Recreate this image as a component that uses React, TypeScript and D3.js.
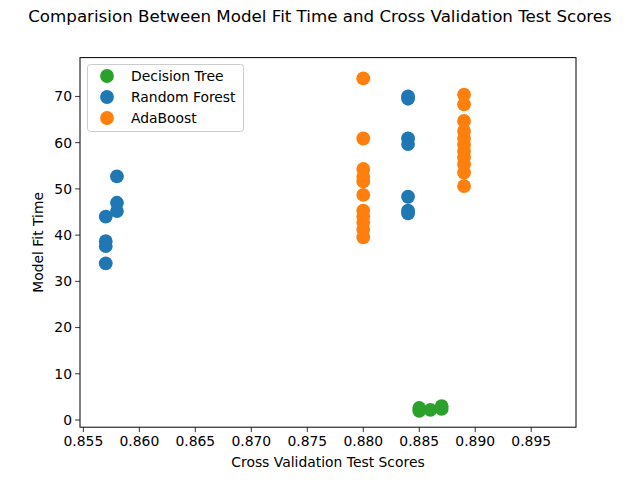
import React from "react";
import * as d3 from "d3";

type Pt = { score: number; time: number };

const decisionTree: Pt[] = [
  { score: 0.885, time: 2.6 },
  { score: 0.885, time: 2.0 },
  { score: 0.886, time: 2.2 },
  { score: 0.887, time: 3.0 },
  { score: 0.887, time: 2.4 },
];

const randomForest: Pt[] = [
  { score: 0.857, time: 44.0 },
  { score: 0.857, time: 38.7 },
  { score: 0.857, time: 37.6 },
  { score: 0.857, time: 33.9 },
  { score: 0.858, time: 52.7 },
  { score: 0.858, time: 47.0 },
  { score: 0.858, time: 45.2 },
  { score: 0.884, time: 70.0 },
  { score: 0.884, time: 69.5 },
  { score: 0.884, time: 60.9 },
  { score: 0.884, time: 59.7 },
  { score: 0.884, time: 48.3 },
  { score: 0.884, time: 45.3 },
  { score: 0.884, time: 44.7 },
];

const adaBoost: Pt[] = [
  { score: 0.88, time: 73.9 },
  { score: 0.88, time: 60.9 },
  { score: 0.88, time: 54.3 },
  { score: 0.88, time: 52.6 },
  { score: 0.88, time: 51.6 },
  { score: 0.88, time: 48.7 },
  { score: 0.88, time: 45.3 },
  { score: 0.88, time: 44.1 },
  { score: 0.88, time: 42.8 },
  { score: 0.88, time: 41.2 },
  { score: 0.88, time: 39.5 },
  { score: 0.889, time: 70.4 },
  { score: 0.889, time: 68.3 },
  { score: 0.889, time: 64.7 },
  { score: 0.889, time: 62.5 },
  { score: 0.889, time: 61.0 },
  { score: 0.889, time: 59.6 },
  { score: 0.889, time: 58.2 },
  { score: 0.889, time: 56.8 },
  { score: 0.889, time: 55.3 },
  { score: 0.889, time: 53.5 },
  { score: 0.889, time: 50.6 },
];

const series = [
  { name: "Decision Tree", color: "#2ca02c", data: decisionTree },
  { name: "Random Forest", color: "#1f77b4", data: randomForest },
  { name: "AdaBoost", color: "#ff7f0e", data: adaBoost },
];

const xTicks = [0.855, 0.86, 0.865, 0.87, 0.875, 0.88, 0.885, 0.89, 0.895];
const yTicks = [0, 10, 20, 30, 40, 50, 60, 70];

const width = 640;
const height = 480;
const margin = { top: 57.6, right: 64, bottom: 52.8, left: 80 };
const font = "DejaVu Sans, sans-serif";

const App: React.FC = () => {
  const x = d3
    .scaleLinear()
    .domain([0.8547, 0.899])
    .range([margin.left, width - margin.right]);
  const y = d3
    .scaleLinear()
    .domain([-1.55, 78.4])
    .range([height - margin.bottom, margin.top]);

  const plotW = width - margin.left - margin.right;
  const plotH = height - margin.top - margin.bottom;
  const bottom = height - margin.bottom;

  return (
    <svg
      width={width}
      height={height}
      style={{ position: "absolute", left: 0, top: 0, background: "#fff" }}
      fontFamily={font}
    >
      <rect width={width} height={height} fill="#fff" />
      <text x={width / 2} y={22} textAnchor="middle" fontSize={16.7} fill="#000">
        Comparision Between Model Fit Time and Cross Validation Test Scores
      </text>

      {series.map((s) =>
        s.data.map((d, i) => (
          <circle
            key={s.name + i}
            cx={x(d.score)}
            cy={y(d.time)}
            r={6.9}
            fill={s.color}
          />
        ))
      )}

      <rect
        x={margin.left}
        y={margin.top}
        width={plotW}
        height={plotH}
        fill="none"
        stroke="#000"
        strokeWidth={1}
      />

      {xTicks.map((t) => (
        <g key={t} transform={`translate(${x(t)},${bottom})`}>
          <line y2={4.9} stroke="#000" strokeWidth={0.8} />
          <text y={19} textAnchor="middle" fontSize={13.9} fill="#000">
            {d3.format(".3f")(t)}
          </text>
        </g>
      ))}
      {yTicks.map((t) => (
        <g key={t} transform={`translate(${margin.left},${y(t)})`}>
          <line x2={-4.9} stroke="#000" strokeWidth={0.8} />
          <text x={-8} dy="0.35em" textAnchor="end" fontSize={13.9} fill="#000">
            {t}
          </text>
        </g>
      ))}

      <text x={margin.left + plotW / 2} y={467} textAnchor="middle" fontSize={13.9} fill="#000">
        Cross Validation Test Scores
      </text>
      <text
        transform={`translate(43,${margin.top + plotH / 2}) rotate(-90)`}
        textAnchor="middle"
        fontSize={13.9}
        fill="#000"
      >
        Model Fit Time
      </text>

      <g>
        <rect
          x={87.5}
          y={64.5}
          width={156}
          height={67}
          rx={3}
          fill="#fff"
          fillOpacity={0.8}
          stroke="#ccc"
        />
        {series.map((s, i) => (
          <g key={s.name} transform={`translate(0,${76 + i * 21})`}>
            <circle cx={107} cy={0} r={6.9} fill={s.color} />
            <text x={131} dy="0.35em" fontSize={13.9} fill="#000">
              {s.name}
            </text>
          </g>
        ))}
      </g>
    </svg>
  );
};

export default App;
